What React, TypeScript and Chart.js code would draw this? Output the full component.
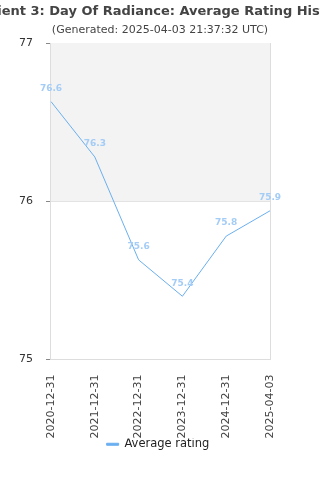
import React, { useEffect, useRef } from "react";
import { Chart, registerables } from "chart.js";

Chart.register(...registerables);

const titleText = "Ancient 3: Day Of Radiance: Average Rating History";
const subtitleText = "(Generated: 2025-04-03 21:37:32 UTC)";
const categories = ["2020-12-31", "2021-12-31", "2022-12-31", "2023-12-31", "2024-12-31", "2025-04-03"];
const ratings = [76.63, 76.28, 75.63, 75.4, 75.78, 75.94];
const yTicks = [75, 76, 77];
const bandRange = [76, 77];

const FONT = "'DejaVu Sans', sans-serif";
const LINE = "#6aaff0";
const LABEL = "#a3ccf6";

export default function App() {
  const ref = useRef<HTMLCanvasElement | null>(null);
  useEffect(() => {
    if (!ref.current) return;
    const bandPlugin = {
      id: "band",
      afterLayout(chart: any) {
        if (chart.legend) {
          chart.legend.left = 0;
          chart.legend.right = chart.width - 4;
        }
      },
      beforeDatasetsDraw(chart: any) {
        const { ctx, chartArea } = chart;
        const y = chart.scales.y;
        const top = y.getPixelForValue(bandRange[1]);
        const bot = y.getPixelForValue(bandRange[0]);
        ctx.save();
        ctx.fillStyle = "#f3f3f3";
        ctx.fillRect(chartArea.left, top, chartArea.right - chartArea.left, bot - top);
        ctx.restore();
      },
    };
    const textPlugin = {
      id: "texts",
      afterDraw(chart: any) {
        const { ctx, width } = chart;
        ctx.save();
        ctx.textAlign = "center";
        ctx.textBaseline = "middle";
        ctx.fillStyle = "#444";
        ctx.font = `bold 13px ${FONT}`;
        ctx.fillText(titleText, width / 2, 12);
        ctx.font = `11px ${FONT}`;
        ctx.fillText(subtitleText, width / 2, 30);
        // data labels
        const meta = chart.getDatasetMeta(0);
        ctx.font = `bold 9px ${FONT}`;
        ctx.fillStyle = LABEL;
        meta.data.forEach((pt: any, i: number) => {
          ctx.fillText(ratings[i].toFixed(1), pt.x, pt.y - 13);
        });
        ctx.restore();
      },
    };
    const chart = new Chart(ref.current, {
      type: "line",
      data: {
        labels: categories,
        datasets: [
          {
            label: "Average rating",
            data: ratings,
            borderColor: LINE,
            backgroundColor: LINE,
            borderWidth: 1,
            pointRadius: 0,
            tension: 0,
          },
        ],
      },
      options: {
        animation: false,
        responsive: true,
        maintainAspectRatio: false,
        layout: { padding: { top: 43, left: 6, right: 42, bottom: 20 } },
        font: { family: FONT },
        plugins: {
          title: { display: false },
          tooltip: { enabled: false },
          legend: {
            position: "bottom",
            labels: {
              boxWidth: 12,
              boxHeight: 2,
              color: "#222",
              font: { family: FONT, size: 11.5 },
              padding: 0,
            },
          },
        },
        scales: {
          x: {
            offset: false,
            grid: { display: false },
            border: { display: true, color: "#dddddd" },
            afterFit(scale: any) {
              scale.height -= 7;
            },
            ticks: {
              minRotation: 90,
              maxRotation: 90,
              color: "#444",
              padding: 7,
              font: { family: FONT, size: 11 },
            },
          },
          y: {
            min: 75,
            max: 77,
            afterBuildTicks(scale: any) {
              scale.ticks = yTicks.map((v) => ({ value: v }));
            },
            grid: {
              color: "#dddddd",
              tickLength: 5,
              tickColor: "#888",
            },
            border: { display: true, color: "#dddddd" },
            ticks: {
              color: "#333",
              padding: 13,
              font: { family: FONT, size: 11 },
            },
          },
          y2: {
            position: "right",
            min: 75,
            max: 77,
            grid: { display: false },
            ticks: { display: false },
            border: { display: true, color: "#dddddd" },
          },
        },
      },
      plugins: [bandPlugin, textPlugin],
    });
    return () => chart.destroy();
  }, []);
  return (
    <div style={{ position: "fixed", left: 0, top: 0, width: 320, height: 480 }}>
      <canvas ref={ref} />
    </div>
  );
}
